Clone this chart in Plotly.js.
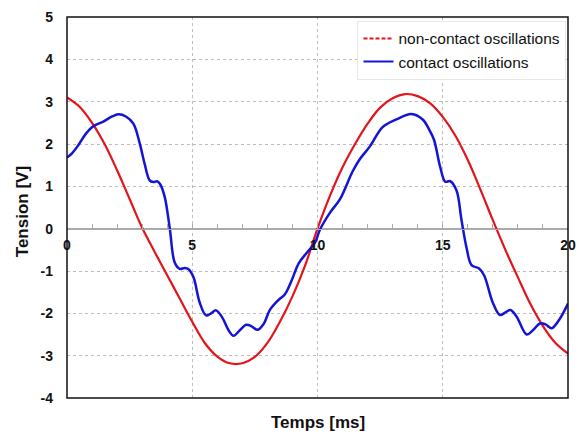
<!DOCTYPE html>
<html>
<head>
<meta charset="utf-8">
<script src="https://cdn.plot.ly/plotly-3.0.1.min.js"></script>
<style>html,body{margin:0;padding:0;background:#fff;}#chart{width:577px;height:434px;}</style>
</head>
<body>
<div id="chart"></div>
<script>
// Non-contact oscillations (red), time in ms
const tRed = [0,0.5,1,1.5,2,2.5,3,3.5,4,4.5,5,5.5,6,6.5,7,7.5,8,8.5,9,9.5,10,10.5,11,11.5,12,12.5,13,13.5,14,14.5,15,15.5,16,16.5,17,17.5,18,18.5,19,19.5,20];
const vRed = [3.1,2.88,2.5,2.0,1.38,0.7,0.02,-0.55,-1.1,-1.65,-2.2,-2.7,-3.02,-3.18,-3.18,-3.03,-2.7,-2.2,-1.6,-0.88,0,0.78,1.45,2.0,2.48,2.86,3.08,3.18,3.13,2.96,2.64,2.2,1.62,0.93,0.2,-0.5,-1.15,-1.78,-2.3,-2.7,-2.95];

// Contact oscillations (blue)
const tBlue = [0,0.2,0.45,0.75,1.05,1.45,1.8,2.05,2.35,2.65,2.9,3.1,3.3,3.45,3.6,3.72,3.9,4.1,4.3,4.5,4.7,4.85,5.05,5.3,5.55,5.75,5.95,6.2,6.45,6.65,6.9,7.15,7.35,7.6,7.85,8.1,8.45,8.7,8.95,9.25,9.6,9.9,10.1,10.5,10.9,11.4,11.7,12.1,12.6,13.15,13.75,14.2,14.45,14.65,14.9,15.1,15.3,15.55,15.75,15.95,16.15,16.45,16.65,17.0,17.28,17.5,17.7,17.95,18.35,18.6,18.88,19.1,19.35,19.65,20.0];
const vBlue = [1.68,1.78,1.97,2.24,2.42,2.53,2.65,2.7,2.65,2.48,2.02,1.53,1.14,1.1,1.12,1.05,0.75,0.02,-0.8,-0.95,-0.93,-0.96,-1.15,-1.75,-2.05,-2.0,-1.93,-2.1,-2.4,-2.53,-2.4,-2.27,-2.3,-2.39,-2.25,-1.92,-1.68,-1.55,-1.25,-0.82,-0.55,-0.33,-0.02,0.38,0.7,1.35,1.65,1.95,2.4,2.58,2.71,2.58,2.35,2.1,1.45,1.11,1.12,0.9,0.2,-0.45,-0.86,-0.94,-1.1,-1.75,-2.04,-1.98,-1.92,-2.08,-2.5,-2.4,-2.24,-2.26,-2.35,-2.15,-1.77];

const xTicks = [0,5,10,15,20];
const yTicks = [-4,-3,-2,-1,0,1,2,3,4,5];
const seriesNames = ['non-contact oscillations','contact oscillations'];

const RED = '#e3141b', BLUE = '#1414d6';
const boldFont = {family:'Liberation Sans, Arial, sans-serif', size:14, color:'#111', weight:'bold'};

const traces = [
  {x:tRed, y:vRed, mode:'lines', line:{color:RED, width:2.2, shape:'spline', smoothing:1}, showlegend:false, hoverinfo:'skip'},
  {x:tBlue, y:vBlue, mode:'lines', line:{color:BLUE, width:2.5, shape:'spline', smoothing:1}, showlegend:false, hoverinfo:'skip'},
  {x:[null], y:[null], mode:'lines', name:seriesNames[0], line:{color:RED, width:2, dash:'4px,2px'}},
  {x:[null], y:[null], mode:'lines', name:seriesNames[1], line:{color:BLUE, width:2}}
];

const layout = {
  width:577, height:434,
  margin:{l:67, r:9, t:17, b:36},
  paper_bgcolor:'#fff', plot_bgcolor:'#fff',
  showlegend:true,
  legend:{x:0.997, xanchor:'right', y:0.99, yanchor:'top', bgcolor:'#fff', bordercolor:'#e8e8e8', borderwidth:1,
          font:{family:'Liberation Sans, Arial, sans-serif', size:15.5, color:'#111'}, tracegroupgap:0, itemwidth:30},
  xaxis:{range:[0,20], tickvals:xTicks, ticktext:xTicks.map(String), anchor:'free', position:4/9,
         showgrid:true, gridcolor:'#bdbdbd', griddash:'3px,3px', gridwidth:1,
         showline:true, linecolor:'#aaaaaa', linewidth:1, zeroline:false,
         ticks:'inside', ticklen:5, tickcolor:'#aaaaaa',
         minor:{dtick:1, ticks:'inside', ticklen:5, tickcolor:'#aaaaaa', showgrid:false},
         tickfont:boldFont, ticklabelstandoff:4, fixedrange:true},
  yaxis:{range:[-4,5], tickvals:yTicks, ticktext:yTicks.map(String),
         showgrid:true, gridcolor:'#bdbdbd', griddash:'3px,3px', gridwidth:1,
         zeroline:true, zerolinecolor:'#aaaaaa', zerolinewidth:1,
         showline:false, ticks:'', tickfont:boldFont, ticklabelstandoff:13, fixedrange:true},
  shapes:[{type:'rect', xref:'paper', yref:'paper', x0:0, x1:1, y0:0, y1:1, line:{color:'#111', width:1.5}, layer:'above'}],
  annotations:[
    {text:'Temps [ms]', xref:'paper', yref:'paper', x:0.5, y:-0.065, xanchor:'center', yanchor:'middle', showarrow:false,
     font:{family:'Liberation Sans, Arial, sans-serif', size:17, color:'#111', weight:'bold'}},
    {text:'Tension [V]', xref:'paper', yref:'paper', x:-0.09, y:0.49, xanchor:'center', yanchor:'middle', textangle:-90, showarrow:false,
     font:{family:'Liberation Sans, Arial, sans-serif', size:17, color:'#111', weight:'bold'}}
  ]
};

Plotly.newPlot('chart', traces, layout, {staticPlot:true, displayModeBar:false});
</script>
</body>
</html>
